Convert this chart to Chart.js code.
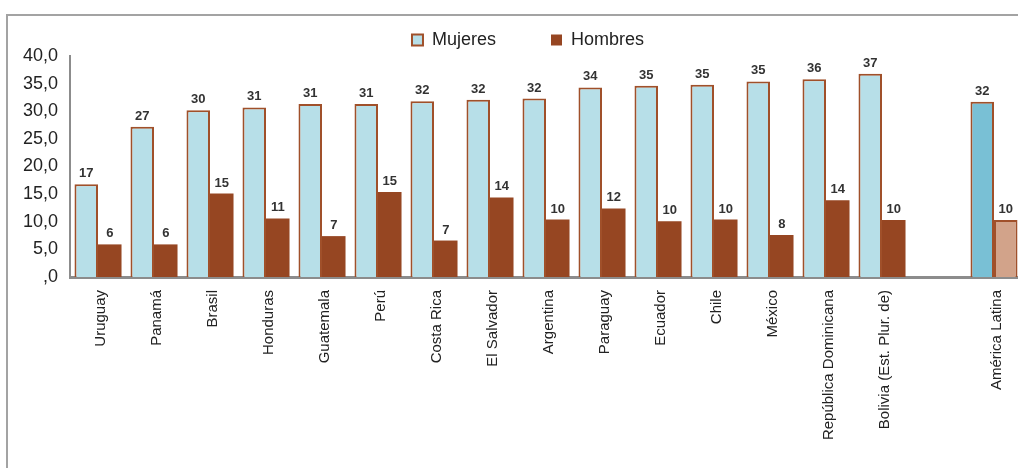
<!DOCTYPE html>
<html>
<head>
<meta charset="utf-8">
<script src="https://cdn.jsdelivr.net/npm/chart.js@4/dist/chart.umd.min.js"></script>
<style>
  html, body { margin: 0; padding: 0; background: #fff; overflow: hidden; width: 1018px; height: 468px; }
  #marco { position: absolute; left: 6px; top: 14px; width: 1100px; height: 520px;
           border-top: 2px solid #a3a3a3; border-left: 2px solid #a3a3a3; }
  #grafico { position: absolute; left: 0; top: -24px; }
</style>
</head>
<body>
<div id="marco"></div>
<canvas id="grafico" width="1056" height="500"></canvas>
<script>
// categorias (la posicion vacia separa America Latina)
const categorias = ['Uruguay', 'Panamá', 'Brasil', 'Honduras', 'Guatemala', 'Perú', 'Costa Rica',
  'El Salvador', 'Argentina', 'Paraguay', 'Ecuador', 'Chile', 'México', 'República Dominicana',
  'Bolivia (Est. Plur. de)', '', 'América Latina'];
const mujeres = [16.8, 27.2, 30.2, 30.7, 31.3, 31.3, 31.8, 32.1, 32.3, 34.3, 34.6, 34.8, 35.4, 35.8, 36.8, null, 31.7];
const hombres = [5.9, 5.9, 15.1, 10.6, 7.4, 15.4, 6.6, 14.4, 10.4, 12.4, 10.1, 10.4, 7.6, 13.9, 10.3, null, 10.3];
const ejeY = { min: 0, max: 40, paso: 5 };

const FUENTE = '"Liberation Sans", Arial, sans-serif';
const CAFE = '#a0502a';
const indiceAL = categorias.indexOf('América Latina');

// etiquetas de valor sobre cada barra
const etiquetas = {
  id: 'etiquetas',
  afterDatasetsDraw(chart) {
    const ctx = chart.ctx;
    ctx.save();
    ctx.font = 'bold 13px ' + FUENTE;
    ctx.fillStyle = '#333';
    ctx.textAlign = 'center';
    ctx.textBaseline = 'alphabetic';
    chart.data.datasets.forEach((ds, i) => {
      chart.getDatasetMeta(i).data.forEach((el, j) => {
        if (ds.data[j] == null) return;
        ctx.fillText(Math.round(ds.data[j]), el.x, el.y - 7);
      });
    });
    ctx.restore();
  }
};

// la leyenda deja 10px de aire abajo, le quito un poco
const leyendaAjuste = {
  id: 'leyendaAjuste',
  afterInit(chart) {
    const fit = chart.legend.fit;
    chart.legend.fit = function() {
      fit.call(this);
      this.height -= 3;
    };
  }
};

new Chart('grafico', {
  type: 'bar',
  data: {
    labels: categorias,
    datasets: [{
      label: 'Mujeres',
      data: mujeres,
      backgroundColor: c => c.dataIndex === indiceAL ? '#79c0d5' : '#b7dfe8',
      borderColor: CAFE,
      borderWidth: 2,
    }, {
      label: 'Hombres',
      data: hombres,
      backgroundColor: c => c.dataIndex === indiceAL ? '#d2a38a' : '#964622',
      borderColor: c => c.dataIndex === indiceAL ? CAFE : '#964622',
      borderWidth: c => c.dataIndex === indiceAL ? 2 : 0,
    }]
  },
  options: {
    responsive: false,
    animation: false,
    layout: { padding: 0 },
    datasets: {
      bar: { categoryPercentage: 0.84, barPercentage: 1.0 }
    },
    scales: {
      x: {
        grid: { display: false },
        border: { color: '#8c8c8c', width: 3 },
        ticks: {
          autoSkip: false,
          minRotation: 90,
          maxRotation: 90,
          padding: 5,
          labelOffset: 3,
          color: '#222',
          font: { family: FUENTE, size: 15 },
        },
        afterFit: s => { s.height = 199; }
      },
      y: {
        min: ejeY.min,
        max: ejeY.max,
        grid: { display: false, drawTicks: false },
        border: { color: '#8c8c8c', width: 2 },
        ticks: {
          stepSize: ejeY.paso,
          padding: 12,
          color: '#222',
          font: { family: FUENTE, size: 18 },
          callback: v => v === 0 ? ',0' : v.toFixed(1).replace('.', ','),
        },
        afterFit: s => { s.width = 70; }
      },
      // eje vacio a la derecha: solo reserva espacio para que la leyenda quede centrada como en el original
      y2: {
        type: 'linear',
        position: 'right',
        grid: { display: false },
        border: { display: false },
        ticks: { display: false },
        afterFit: s => { s.width = 34; }
      }
    },
    plugins: {
      legend: {
        position: 'top',
        labels: {
          boxWidth: 11,
          boxHeight: 11,
          padding: 55,
          color: '#222',
          font: { family: FUENTE, size: 18 },
        }
      },
      tooltip: { enabled: false }
    }
  },
  plugins: [etiquetas, leyendaAjuste]
});
</script>
</body>
</html>
